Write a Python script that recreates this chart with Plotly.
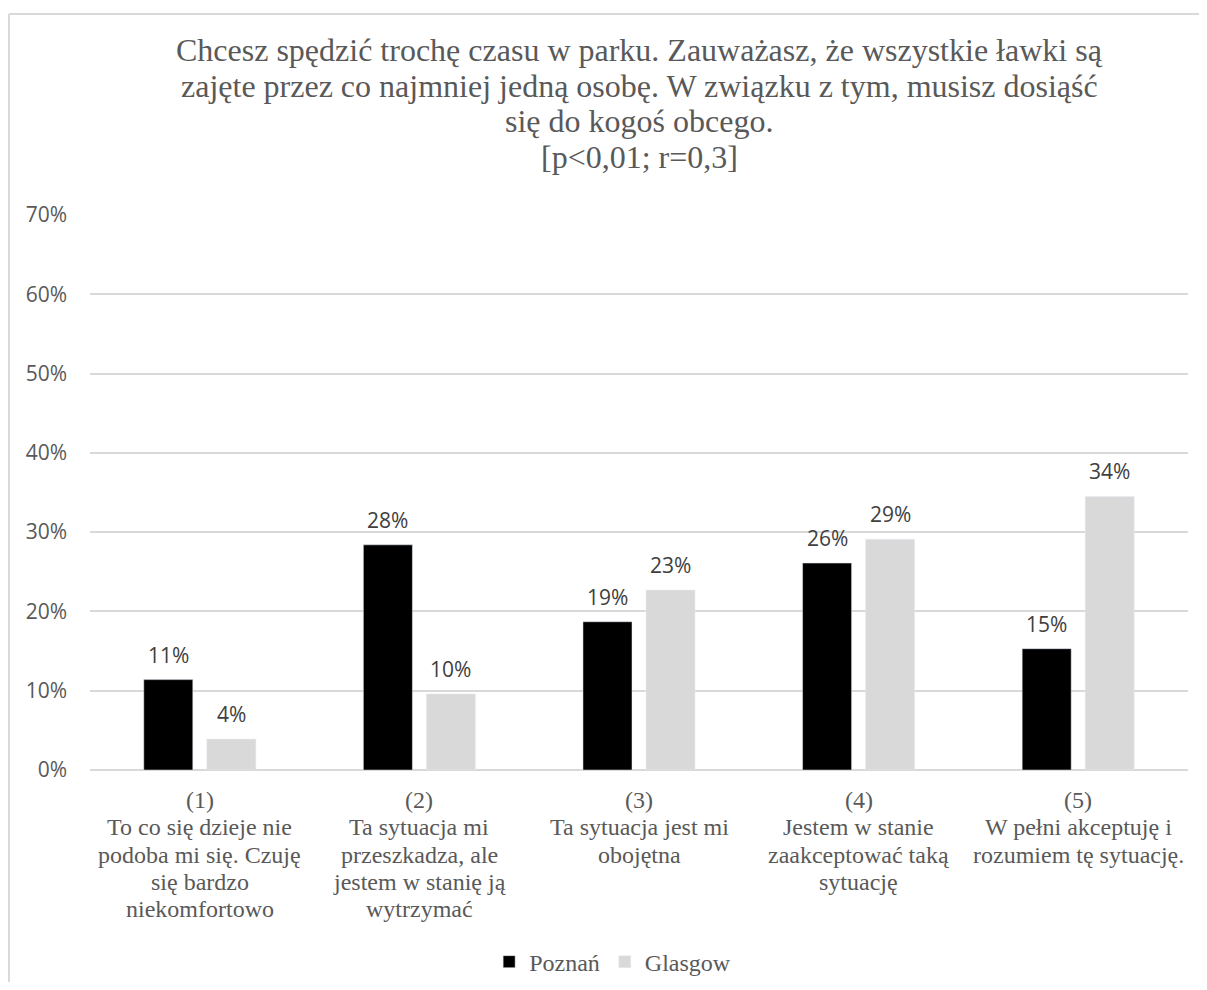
import plotly.graph_objects as go

categories = ['(1)', '(2)', '(3)', '(4)', '(5)']
category_text = [
    ['To co się dzieje nie', 'podoba mi się. Czuję', 'się bardzo', 'niekomfortowo'],
    ['Ta sytuacja mi', 'przeszkadza, ale', 'jestem w stanię ją', 'wytrzymać'],
    ['Ta sytuacja jest mi', 'obojętna'],
    ['Jestem w stanie', 'zaakceptować taką', 'sytuację'],
    ['W pełni akceptuję i', 'rozumiem tę sytuację.'],
]
poznan = [0.114, 0.284, 0.187, 0.261, 0.153]
glasgow = [0.039, 0.096, 0.227, 0.291, 0.345]

title_lines = [
    'Chcesz spędzić trochę czasu w parku. Zauważasz, że wszystkie ławki są',
    'zajęte przez co najmniej jedną osobę. W związku z tym, musisz dosiąść',
    'się do kogoś obcego.',
    '[p<0,01; r=0,3]',
]

serif = 'Liberation Serif'
sans = 'Open Sans'
grey_text = '#595959'

fig = go.Figure()
fig.add_trace(go.Bar(x=categories, y=poznan, name='Poznań', marker_color='#000000'))
fig.add_trace(go.Bar(x=categories, y=glasgow, name='Glasgow', marker_color='#d9d9d9'))

# data labels above the bars
for series, shift in ((poznan, -31.5), (glasgow, 31.5)):
    for cat, v in zip(categories, series):
        fig.add_annotation(
            x=cat, y=v, text=f'{round(v * 100)}%', showarrow=False,
            xshift=shift, yshift=9, yanchor='bottom',
            font=dict(family=sans, size=21, color='#404040'),
        )

# category labels, line by line (tighter line spacing than plotly's ticklabels)
for cat, lines in zip(categories, category_text):
    for i, line in enumerate([cat] + lines):
        fig.add_annotation(
            x=cat, y=0, yref='paper', text=line, showarrow=False,
            yanchor='middle', yshift=-(30 + 27.3 * i),
            font=dict(family=serif, size=24, color=grey_text),
        )

# title, one line at a time so the line spacing matches
for i, line in enumerate(title_lines):
    fig.add_annotation(
        text=line, xref='paper', yref='paper', x=0.5, y=1.297 - i * 0.064,
        xanchor='center', yanchor='middle', showarrow=False,
        font=dict(family=serif, size=32, color=grey_text),
    )

fig.update_layout(
    width=1199, height=974,
    margin=dict(l=82, r=19, t=207, b=212),
    paper_bgcolor='white', plot_bgcolor='white',
    barmode='group', bargap=0.426, bargroupgap=0.222,
    xaxis=dict(showticklabels=False, showline=False, ticks='', automargin=False),
    yaxis=dict(range=[0, 0.7], dtick=0.1, tickformat='.0%',
               tickfont=dict(family=sans, size=21, color=grey_text),
               gridcolor='#d9d9d9', gridwidth=1.5, zeroline=True,
               zerolinecolor='#d9d9d9', zerolinewidth=1.5, ticks='',
               ticklabelstandoff=22, automargin=False),
    legend=dict(orientation='h', x=0.476, xanchor='center', yref='container',
                y=0.0205, yanchor='middle', itemwidth=30,
                font=dict(family=serif, size=24, color=grey_text)),
    showlegend=True,
)

# light chart border (top and left edges)
fig.add_shape(type='line', xref='paper', yref='paper', x0=-0.0738, x1=1.1, y0=1.362, y1=1.362,
              line=dict(color='#d9d9d9', width=2))
fig.add_shape(type='line', xref='paper', yref='paper', x0=-0.0738, x1=-0.0738, y0=-0.5, y1=1.362,
              line=dict(color='#d9d9d9', width=2))

fig.write_html('out.html')
